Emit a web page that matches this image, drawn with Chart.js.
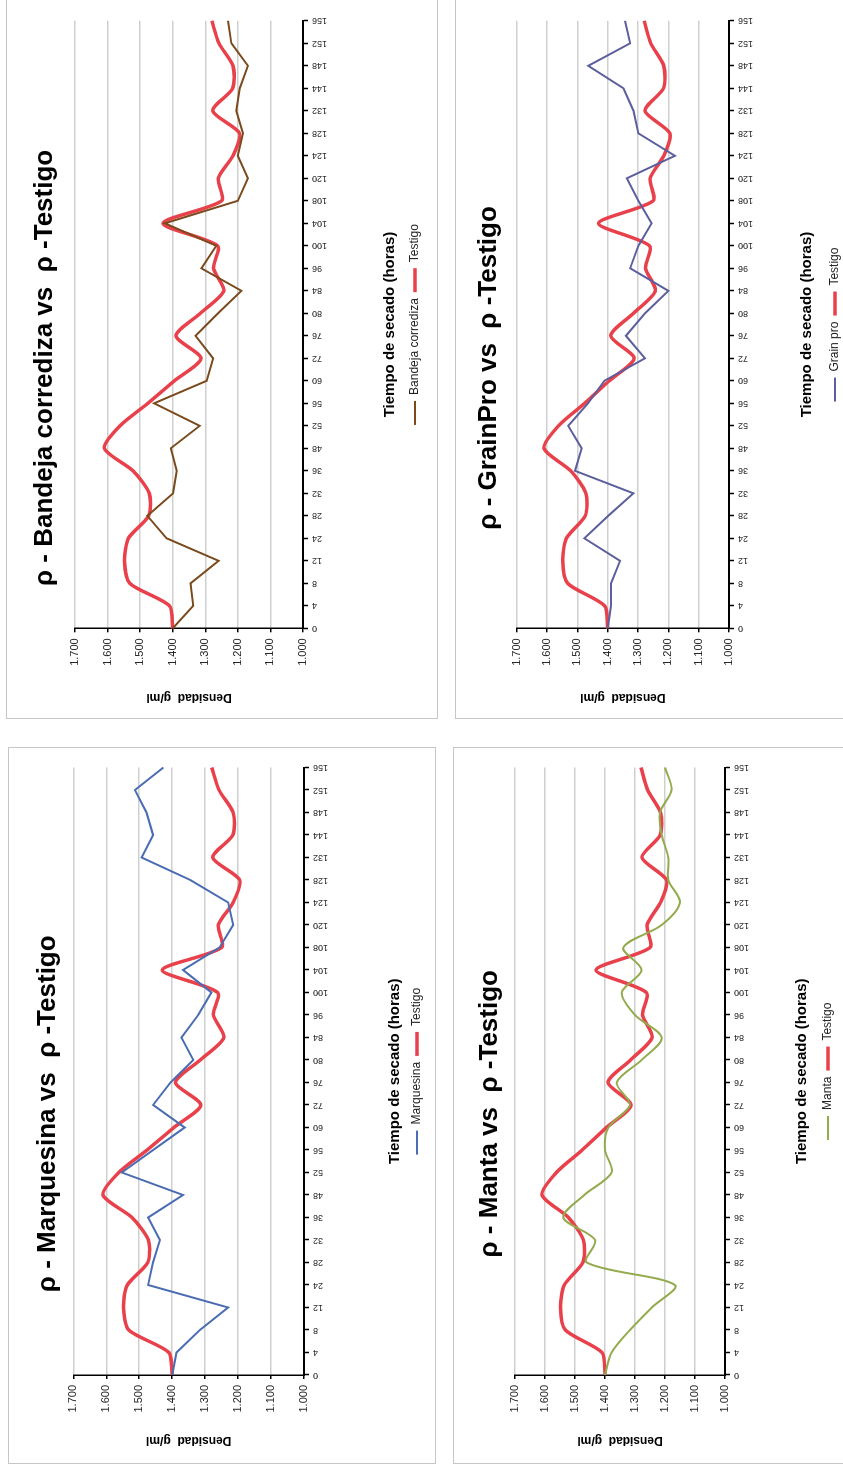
<!DOCTYPE html>
<html>
<head>
<meta charset="utf-8">
<script src="https://cdn.jsdelivr.net/npm/chart.js@4.4.1/dist/chart.umd.min.js"></script>
<style>
  body { margin: 0; background: #fff; width: 843px; height: 1470px; overflow: hidden; position: relative; }
  .panel { position: absolute; border: 1px solid #c6c6c6; box-sizing: border-box; overflow: hidden; }
</style>
</head>
<body>
<script>
// hours of drying (category axis)
const hours = [0, 4, 8, 12, 24, 28, 32, 36, 48, 52, 56, 60, 72, 76, 80, 84, 96, 100, 104, 108, 120, 124, 128, 132, 144, 148, 152, 156];

// density g/ml
const testigo    = [1.400, 1.410, 1.532, 1.548, 1.536, 1.474, 1.472, 1.522, 1.610, 1.562, 1.476, 1.395, 1.313, 1.390, 1.315, 1.243, 1.275, 1.262, 1.430, 1.250, 1.260, 1.215, 1.195, 1.277, 1.216, 1.215, 1.258, 1.280];
const bandeja    = [1.400, 1.337, 1.345, 1.259, 1.419, 1.478, 1.399, 1.388, 1.406, 1.317, 1.457, 1.296, 1.276, 1.330, 1.261, 1.189, 1.312, 1.266, 1.424, 1.200, 1.169, 1.200, 1.184, 1.205, 1.194, 1.169, 1.220, 1.230];
const grainPro   = [1.400, 1.389, 1.389, 1.359, 1.477, 1.398, 1.315, 1.508, 1.486, 1.530, 1.465, 1.411, 1.277, 1.340, 1.277, 1.200, 1.326, 1.299, 1.255, 1.299, 1.337, 1.178, 1.299, 1.315, 1.348, 1.464, 1.326, 1.343];
const marquesina = [1.400, 1.387, 1.316, 1.230, 1.473, 1.458, 1.437, 1.473, 1.367, 1.553, 1.458, 1.362, 1.458, 1.405, 1.336, 1.372, 1.321, 1.281, 1.367, 1.256, 1.215, 1.230, 1.345, 1.493, 1.458, 1.478, 1.513, 1.427];
const manta      = [1.400, 1.378, 1.317, 1.244, 1.167, 1.461, 1.433, 1.539, 1.469, 1.378, 1.400, 1.389, 1.317, 1.361, 1.278, 1.211, 1.300, 1.344, 1.278, 1.339, 1.211, 1.150, 1.189, 1.189, 1.211, 1.217, 1.178, 1.200];

const yMin = 1.0, yMax = 1.7, yStep = 0.1;

const FONT = '"Liberation Sans", Arial, sans-serif';
const TITLE_SIZE = 26, XTITLE_SIZE = 15, YTITLE_SIZE = 12, LEG_SIZE = 12, LEG_PAD = 6;

function makePanel(box, lay, title, name, values, color, smooth) {
  // the chart is drawn upright, then the whole thing turned a quarter left
  const W = box.h, H = box.w;
  const wrap = document.createElement('div');
  wrap.className = 'panel';
  Object.assign(wrap.style, { left: box.x + 'px', top: box.y + 'px', width: box.w + 'px', height: box.h + 'px' });
  const rot = document.createElement('div');
  rot.style.cssText = `position:absolute;left:-1px;top:-1px;width:${W}px;height:${H}px;transform-origin:0 0;transform:translateY(${W}px) rotate(-90deg)`;
  const cv = document.createElement('canvas');
  cv.width = W; cv.height = H;
  cv.style.width = W + 'px'; cv.style.height = H + 'px';
  rot.appendChild(cv);
  wrap.appendChild(rot);
  document.body.appendChild(wrap);

  const lhT = TITLE_SIZE * 1.2;
  const legTop = lay.legendV - LEG_PAD - LEG_SIZE / 2;
  const legH = LEG_SIZE + LEG_PAD + 10;
  const padLeft = 4;
  const xH = legTop - lay.plotBottom;
  const yW = lay.plotLeft - padLeft;

  new Chart(cv, {
    type: 'line',
    data: {
      labels: hours,
      datasets: [
        { label: name, data: values, borderColor: color, backgroundColor: color, borderWidth: 2, pointRadius: 0, tension: smooth ? 0.3 : 0 },
        { label: 'Testigo', data: testigo, borderColor: '#e8414b', backgroundColor: '#e8414b', borderWidth: 3.5, pointRadius: 0, tension: 0.25 }
      ]
    },
    options: {
      responsive: false,
      animation: false,
      layout: { padding: { top: 0, left: padLeft, right: W - lay.plotRight, bottom: H - legTop - legH } },
      plugins: {
        title: {
          display: true, text: title, color: '#000',
          font: { family: FONT, size: TITLE_SIZE, weight: 'bold' },
          padding: { top: lay.titleV - lhT / 2, bottom: lay.plotTop - lay.titleV - lhT / 2 }
        },
        legend: {
          position: 'bottom', fullSize: false,
          labels: {
            usePointStyle: true, pointStyle: 'line', pointStyleWidth: 24,
            font: { family: FONT, size: LEG_SIZE }, color: '#222', padding: LEG_PAD
          }
        },
        tooltip: { enabled: false }
      },
      scales: {
        x: {
          afterFit: s => { s.height = xH; },
          grid: { display: true, drawOnChartArea: false, tickLength: 5, tickColor: '#000', tickWidth: 1.5 },
          border: { color: '#000', width: 2 },
          ticks: { autoSkip: false, maxRotation: 90, minRotation: 90, padding: 4, color: '#222', font: { family: FONT, size: 9 } },
          title: {
            display: true, text: 'Tiempo de secado (horas)', color: '#000',
            font: { family: FONT, size: XTITLE_SIZE, weight: 'bold' },
            padding: { top: 0, bottom: legTop - lay.xTitleV - XTITLE_SIZE * 0.6 }
          }
        },
        y: {
          min: yMin, max: yMax,
          afterFit: s => { s.width = yW; },
          grid: { color: '#cfcfcf', lineWidth: 1.5, tickLength: 4, tickColor: '#000' },
          border: { color: '#000', width: 1.5 },
          ticks: { stepSize: yStep, padding: 6, color: '#222', font: { family: FONT, size: 11 }, callback: v => v.toFixed(3) },
          title: {
            display: true, text: 'Densidad  g/ml', color: '#000',
            font: { family: FONT, size: YTITLE_SIZE, weight: 'bold' },
            padding: { top: lay.yTitleU - padLeft - YTITLE_SIZE * 0.6, bottom: 0 }
          }
        }
      }
    }
  });
}

makePanel({ x: 6, y: -2, w: 432, h: 721 },
  { plotLeft: 90.7, plotRight: 698.2, plotTop: 69, plotBottom: 297, titleV: 39, xTitleV: 384, legendV: 409, yTitleU: 22 },
  'ρ - Bandeja corrediza vs  ρ -Testigo', 'Bandeja corrediza', bandeja, '#7b4a1c', false);

makePanel({ x: 455, y: -2, w: 400, h: 721 },
  { plotLeft: 90.7, plotRight: 698.2, plotTop: 61.7, plotBottom: 274, titleV: 34, xTitleV: 352, legendV: 380, yTitleU: 22 },
  'ρ - GrainPro vs  ρ -Testigo', 'Grain pro', grainPro, '#5c5f9e', false);

makePanel({ x: 8, y: 747, w: 428, h: 717 },
  { plotLeft: 89, plotRight: 696.5, plotTop: 65.3, plotBottom: 296, titleV: 40, xTitleV: 387, legendV: 409, yTitleU: 24 },
  'ρ - Marquesina vs  ρ -Testigo', 'Marquesina', marquesina, '#4a6cb3', false);

makePanel({ x: 453, y: 747, w: 400, h: 717 },
  { plotLeft: 89, plotRight: 696.5, plotTop: 62, plotBottom: 272, titleV: 37, xTitleV: 349, legendV: 375, yTitleU: 24 },
  'ρ - Manta vs  ρ -Testigo', 'Manta', manta, '#93ab4c', true);
</script>
</body>
</html>
